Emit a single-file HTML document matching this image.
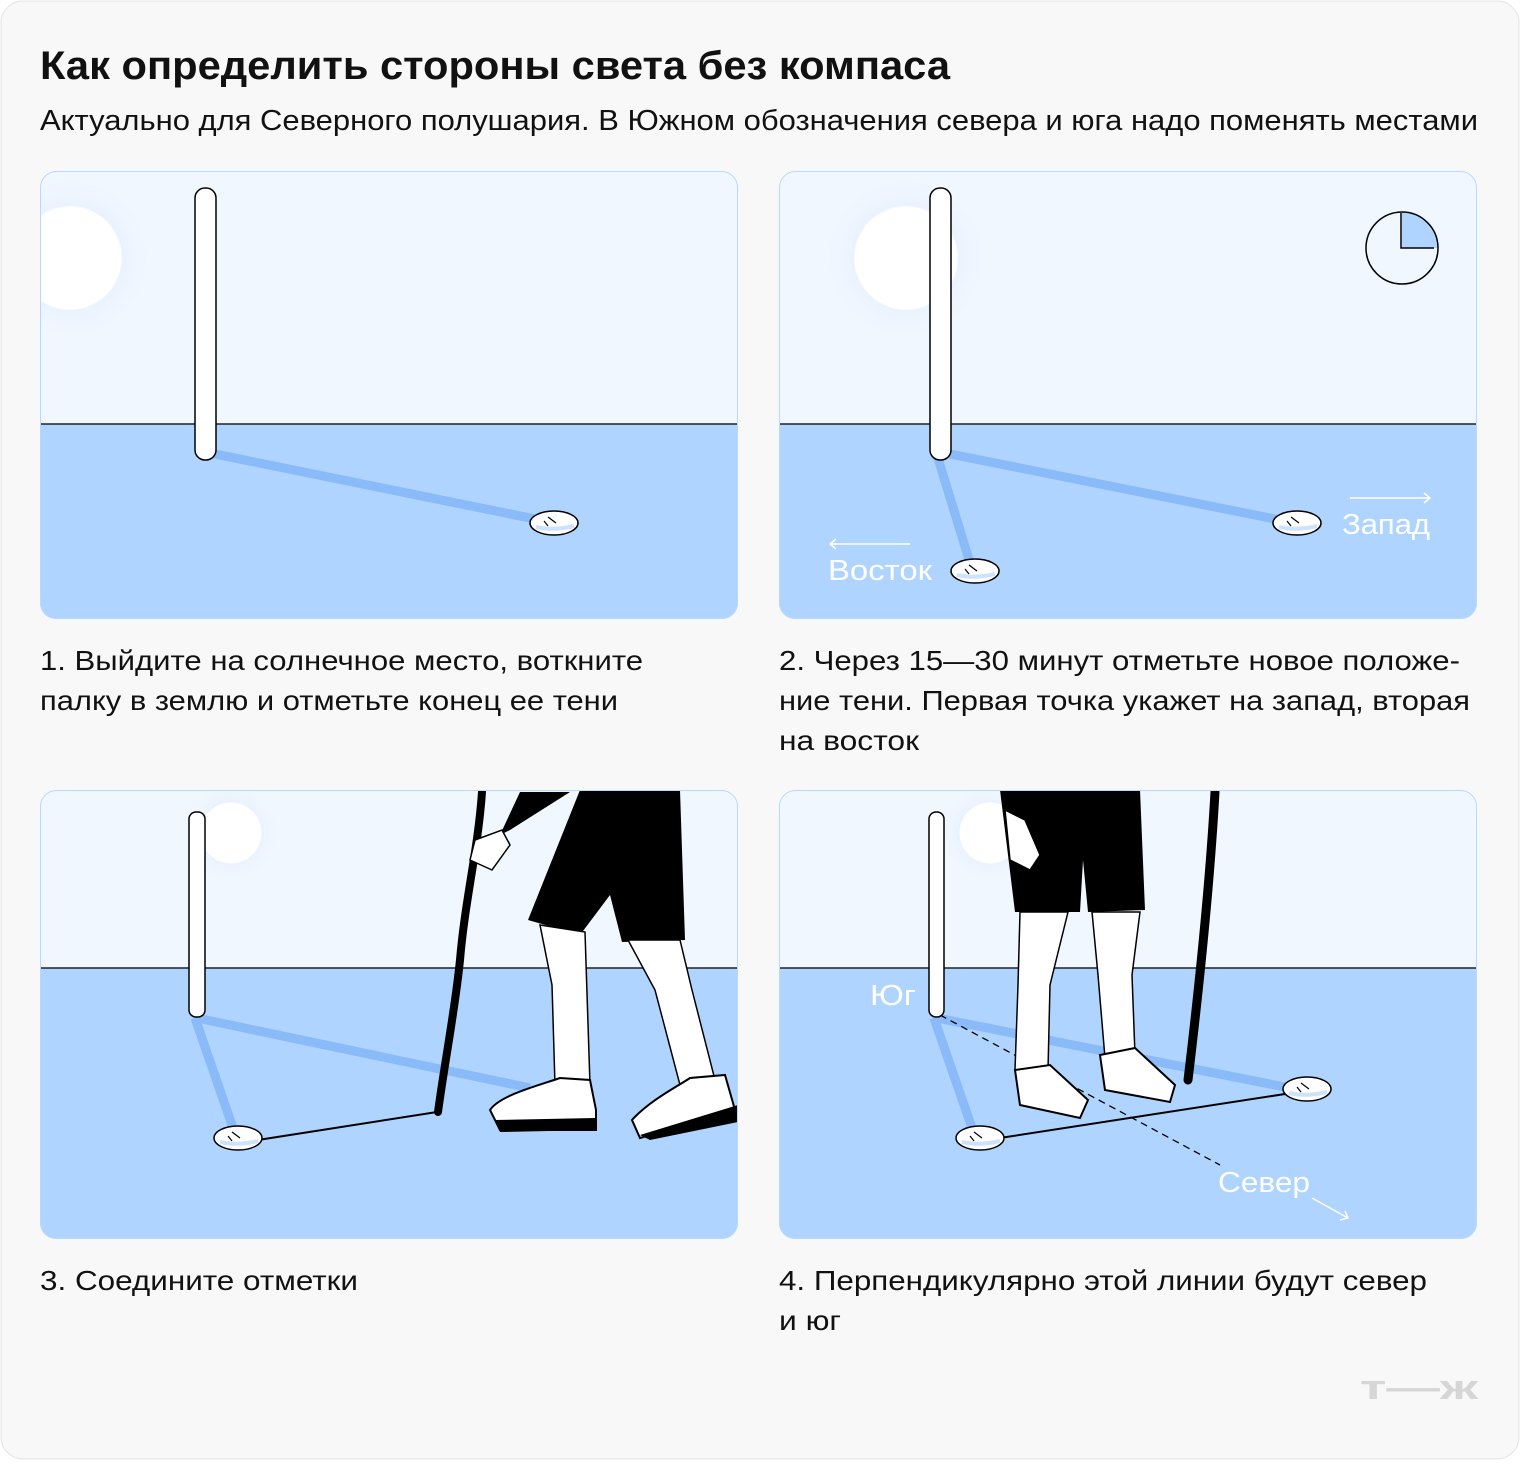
<!DOCTYPE html>
<html><head><meta charset="utf-8"><style>
body{margin:0;background:#fff}
svg text{font-family:"Liberation Sans",sans-serif}
</style></head><body>
<svg width="1520" height="1460" viewBox="0 0 1520 1460" xmlns="http://www.w3.org/2000/svg">
<defs>
<radialGradient id="glow"><stop offset="0.6" stop-color="#fff"/><stop offset="0.62" stop-color="#e8f1fe" stop-opacity=".8"/><stop offset="1" stop-color="#f1f7ff" stop-opacity="0"/></radialGradient>
<clipPath id="c1"><rect x="40" y="171" width="698" height="448" rx="16"/></clipPath>
<clipPath id="c2"><rect x="779" y="171" width="698" height="448" rx="16"/></clipPath>
<clipPath id="c3"><rect x="40" y="790" width="698" height="449" rx="16"/></clipPath>
<clipPath id="c4"><rect x="779" y="790" width="698" height="449" rx="16"/></clipPath>
<g id="stone"><ellipse cx="0" cy="0" rx="24" ry="12" fill="#fff" stroke="#000" stroke-width="1.5"/><path d="M-18 4 Q0 8 20 3" stroke="#cfe2fb" stroke-width="4" fill="none"/><path d="M-6 -6 L2 0 M-10 -2 L-6 3" stroke="#000" stroke-width="1.2" fill="none"/></g>
</defs>
<rect x="1" y="1" width="1518" height="1458" rx="22" fill="#f8f8f8" stroke="#e4e4e4"/>
<text x="40" y="79" font-size="40" font-weight="bold" fill="#111" textLength="910" lengthAdjust="spacingAndGlyphs">Как определить стороны света без компаса</text>
<text x="40" y="130" font-size="29" fill="#111" textLength="1438" lengthAdjust="spacingAndGlyphs">Актуально для Северного полушария. В Южном обозначения севера и юга надо поменять местами</text>

<!-- Panel 1 -->
<g clip-path="url(#c1)">
<rect x="40" y="171" width="698" height="448" fill="#f1f7ff"/>
<rect x="40" y="424" width="698" height="195" fill="#aed4ff"/>
<circle cx="70" cy="258" r="85" fill="url(#glow)"/>
<line x1="40" y1="424" x2="738" y2="424" stroke="#222" stroke-width="1.5"/>
<line x1="205" y1="452" x2="540" y2="520" stroke="#8abaf7" stroke-width="9"/>
<rect x="195" y="188" width="21" height="272" rx="10" fill="#fff" stroke="#000" stroke-width="1.5"/>
<use href="#stone" x="554" y="523"/>
</g>
<rect x="40.5" y="171.5" width="697" height="447" rx="16" fill="none" stroke="#b8d8ff"/>

<!-- Panel 2 -->
<g clip-path="url(#c2)">
<rect x="779" y="171" width="698" height="448" fill="#f1f7ff"/>
<rect x="779" y="424" width="698" height="195" fill="#aed4ff"/>
<ellipse cx="906" cy="258" rx="85" ry="85" fill="url(#glow)"/>
<line x1="779" y1="424" x2="1477" y2="424" stroke="#222" stroke-width="1.5"/>
<line x1="940" y1="452" x2="1290" y2="522" stroke="#8abaf7" stroke-width="9"/>
<line x1="937" y1="455" x2="970" y2="563" stroke="#8abaf7" stroke-width="9"/>
<rect x="930" y="188" width="21" height="272" rx="10" fill="#fff" stroke="#000" stroke-width="1.5"/>
<use href="#stone" x="1297" y="523"/>
<use href="#stone" x="975" y="571"/>
<text x="1342" y="534" font-size="29" fill="#fff" textLength="88" lengthAdjust="spacingAndGlyphs">Запад</text>
<text x="828" y="580" font-size="29" fill="#fff" textLength="104" lengthAdjust="spacingAndGlyphs">Восток</text>
<path d="M1350 498 H1430 M1424 493 L1430 498 L1424 503" stroke="#fff" stroke-width="1.5" fill="none"/>
<path d="M910 544 H830 M836 539 L830 544 L836 549" stroke="#fff" stroke-width="1.5" fill="none"/>
<path d="M1402 248 V212 A36 36 0 0 1 1438 248 Z" fill="#aed4ff"/>
<circle cx="1402" cy="248" r="36" fill="none" stroke="#000" stroke-width="1.5"/>
<path d="M1401 213 V248 H1434" stroke="#000" stroke-width="1.5" fill="none"/>
</g>
<rect x="779.5" y="171.5" width="697" height="447" rx="16" fill="none" stroke="#b8d8ff"/>

<text font-size="28" fill="#111"><tspan x="40" y="670" textLength="603" lengthAdjust="spacingAndGlyphs">1. Выйдите на солнечное место, воткните</tspan><tspan x="40" y="710" textLength="578" lengthAdjust="spacingAndGlyphs">палку в землю и отметьте конец ее тени</tspan></text>
<text font-size="28" fill="#111"><tspan x="779" y="670" textLength="681" lengthAdjust="spacingAndGlyphs">2. Через 15—30 минут отметьте новое положе-</tspan><tspan x="779" y="710" textLength="691" lengthAdjust="spacingAndGlyphs">ние тени. Первая точка укажет на запад, вторая</tspan><tspan x="779" y="750" textLength="140" lengthAdjust="spacingAndGlyphs">на восток</tspan></text>

<!-- Panel 3 -->
<g clip-path="url(#c3)">
<rect x="40" y="790" width="698" height="449" fill="#f1f7ff"/>
<rect x="40" y="968" width="698" height="271" fill="#aed4ff"/>
<circle cx="231" cy="833" r="50" fill="url(#glow)"/>
<line x1="40" y1="968" x2="738" y2="968" stroke="#222" stroke-width="1.5"/>
<line x1="197" y1="1018" x2="530" y2="1088" stroke="#8abaf7" stroke-width="9"/>
<line x1="195" y1="1018" x2="233" y2="1128" stroke="#8abaf7" stroke-width="9"/>
<rect x="189" y="812" width="16" height="205" rx="7" fill="#fff" stroke="#000" stroke-width="1.5"/>
<path d="M258 1140 L437 1112" stroke="#000" stroke-width="2"/>
<use href="#stone" x="238" y="1138"/>
<path d="M482 792 C478 850 465 900 460 960 C455 1010 445 1060 438 1112" stroke="#000" stroke-width="8" fill="none" stroke-linecap="round"/>
<path d="M520 792 L570 792 L510 830 L500 835 Z" fill="#000"/>
<path d="M475 840 L502 830 L510 845 L492 870 L470 860 Z" fill="#fff" stroke="#000" stroke-width="1.5"/>
<path d="M580 790 L680 790 L685 940 L622 942 L610 895 L580 935 L528 920 Z" fill="#000"/>
<path d="M540 925 L585 932 L590 1085 L555 1085 L552 985 Z" fill="#fff" stroke="#000" stroke-width="1.5"/>
<path d="M628 940 L680 940 L692 990 L715 1080 L680 1085 L655 990 Z" fill="#fff" stroke="#000" stroke-width="1.5"/>
<path d="M490 1110 C500 1095 540 1085 560 1078 L590 1080 L596 1110 L596 1130 L500 1130 Z" fill="#fff" stroke="#000" stroke-width="2"/>
<path d="M495 1120 L595 1118 L596 1130 L500 1132 Z" fill="#000"/>
<path d="M632 1120 C650 1100 680 1085 690 1078 L725 1075 L735 1110 L640 1138 Z" fill="#fff" stroke="#000" stroke-width="2"/>
<path d="M640 1135 L738 1105 L738 1122 L650 1140 Z" fill="#000"/>
</g>
<rect x="40.5" y="790.5" width="697" height="448" rx="16" fill="none" stroke="#b8d8ff"/>

<!-- Panel 4 -->
<g clip-path="url(#c4)">
<rect x="779" y="790" width="698" height="449" fill="#f1f7ff"/>
<rect x="779" y="968" width="698" height="271" fill="#aed4ff"/>
<circle cx="990" cy="833" r="50" fill="url(#glow)"/>
<line x1="779" y1="968" x2="1477" y2="968" stroke="#222" stroke-width="1.5"/>
<line x1="937" y1="1018" x2="1300" y2="1090" stroke="#8abaf7" stroke-width="9"/>
<line x1="934" y1="1018" x2="972" y2="1128" stroke="#8abaf7" stroke-width="9"/>
<path d="M1000 1138 L1285 1094" stroke="#000" stroke-width="2"/>
<path d="M940 1015 L1220 1165" stroke="#000" stroke-width="1.3" stroke-dasharray="7 5"/>
<rect x="929" y="812" width="15" height="205" rx="7" fill="#fff" stroke="#000" stroke-width="1.5"/>
<use href="#stone" x="980" y="1138"/>
<use href="#stone" x="1307" y="1089"/>
<path d="M1215 792 C1210 880 1200 980 1188 1080" stroke="#000" stroke-width="9" fill="none" stroke-linecap="round"/>
<path d="M1000 790 L1140 790 L1145 910 L1088 912 L1083 860 L1080 912 L1015 912 Z" fill="#000"/>
<path d="M1005 810 L1025 820 L1040 855 L1030 870 L1010 860 Z" fill="#fff" stroke="#000" stroke-width="1.5"/>
<path d="M1020 912 L1068 912 L1050 985 L1048 1070 L1015 1070 L1018 985 Z" fill="#fff" stroke="#000" stroke-width="1.5"/>
<path d="M1092 912 L1140 912 L1132 975 L1135 1055 L1105 1058 L1098 975 Z" fill="#fff" stroke="#000" stroke-width="1.5"/>
<path d="M1015 1070 L1050 1065 L1088 1100 L1080 1118 L1020 1105 Z" fill="#fff" stroke="#000" stroke-width="2"/>
<path d="M1100 1055 L1135 1048 L1175 1085 L1170 1102 L1105 1090 Z" fill="#fff" stroke="#000" stroke-width="2"/>
<text x="870" y="1005" font-size="29" fill="#fff" textLength="46" lengthAdjust="spacingAndGlyphs">Юг</text>
<text x="1218" y="1192" font-size="29" fill="#fff" textLength="92" lengthAdjust="spacingAndGlyphs">Север</text>
<path d="M1312 1198 L1348 1218 M1340 1220 L1348 1218 L1345 1211" stroke="#fff" stroke-width="1.5" fill="none"/>
</g>
<rect x="779.5" y="790.5" width="697" height="448" rx="16" fill="none" stroke="#b8d8ff"/>

<text x="40" y="1290" font-size="28" fill="#111" textLength="318" lengthAdjust="spacingAndGlyphs">3. Соедините отметки</text>
<text font-size="28" fill="#111"><tspan x="779" y="1290" textLength="648" lengthAdjust="spacingAndGlyphs">4. Перпендикулярно этой линии будут север</tspan><tspan x="779" y="1330" textLength="62" lengthAdjust="spacingAndGlyphs">и юг</tspan></text>

<text x="1360" y="1399" font-size="34" font-weight="bold" fill="#d6d6d6" textLength="118" lengthAdjust="spacingAndGlyphs">т—ж</text>
</svg>
</body></html>
